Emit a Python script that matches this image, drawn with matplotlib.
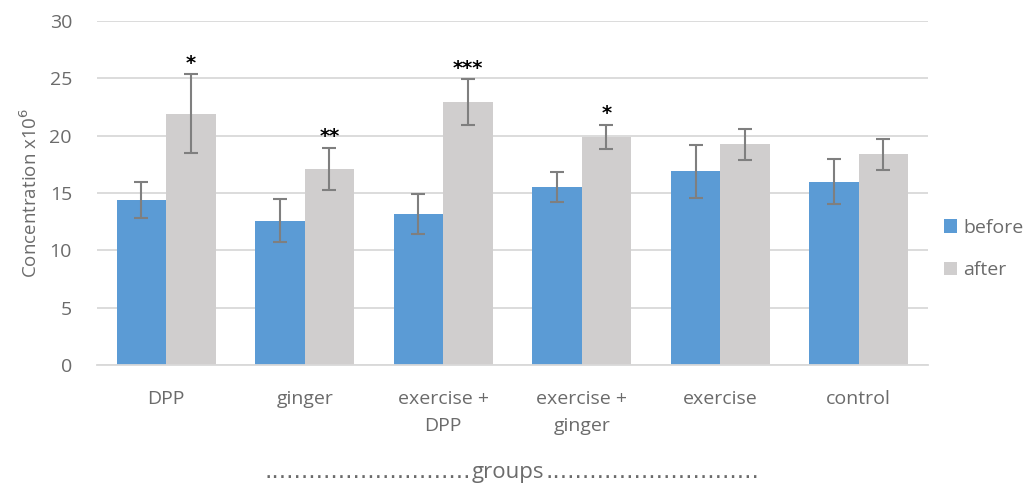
import matplotlib
matplotlib.use("Agg")
import matplotlib.pyplot as plt
import numpy as np

plt.rcParams['font.family'] = ['Open Sans', 'DejaVu Sans']

groups = ["DPP", "ginger", "exercise +\nDPP", "exercise +\nginger", "exercise", "control"]
before = [14.4, 12.6, 13.2, 15.5, 16.9, 16.0]
before_err = [1.6, 1.85, 1.75, 1.3, 2.3, 2.0]
after = [21.9, 17.1, 22.9, 19.9, 19.25, 18.4]
after_err = [3.45, 1.85, 2.0, 1.05, 1.35, 1.35]
significance = ["*", "**", "***", "*", "", ""]

blue = "#5b9bd5"
grey = "#d0cece"
text_grey = "#6b6b6b"

fig = plt.figure(figsize=(10.27, 4.83), dpi=100)
ax = fig.add_axes([0.0944, 0.2443, 0.8092, 0.7122])

x = np.arange(len(groups))
w = 0.357
err_kw = dict(ecolor="#7f7f7f", elinewidth=1.5, capsize=5, capthick=1.5)
ax.bar(x - w / 2, before, w, color=blue, label="before", zorder=2,
       yerr=before_err, error_kw=err_kw)
ax.bar(x + w / 2, after, w, color=grey, label="after", zorder=2,
       yerr=after_err, error_kw=err_kw)

for xi, top, err, s in zip(x, after, after_err, significance):
    if s:
        ax.annotate(s, (xi + w / 2, top + err), xytext=(0, 1),
                    textcoords="offset points", ha="center", va="bottom",
                    fontsize=14, fontweight="bold", color="black",
                    family="DejaVu Sans")

ax.set_xlim(-0.5, len(groups) - 0.5)
ax.set_ylim(0, 30)
ax.set_yticks(np.arange(0, 31, 5))
ax.yaxis.grid(True, color="#d9d9d9", linewidth=1.3, zorder=0)
ax.set_axisbelow(True)
for side in ["top", "right", "left"]:
    ax.spines[side].set_visible(False)
ax.spines["bottom"].set_color("#d9d9d9")
ax.spines["bottom"].set_linewidth(1.3)
ax.tick_params(axis="both", length=0, labelsize=14, labelcolor=text_grey)
ax.tick_params(axis="y", pad=18)
ax.tick_params(axis="x", pad=18)
ax.set_xticks(x)
ax.set_xticklabels(groups, linespacing=1.65)

ax.set_ylabel("Concentration x10$^6$", fontsize=13.5, color=text_grey, labelpad=6)

# axis title: dotted leaders either side of the word
title_y = 0.0104
fig.text(0.4946, title_y, "groups", ha="center", va="baseline",
         fontsize=16, color=text_grey)
fig.text(0.4586, title_y, "." * 28, ha="right", va="baseline",
         fontsize=16.6, color=text_grey, family="DejaVu Sans")
fig.text(0.5310, title_y, "." * 29, ha="left", va="baseline",
         fontsize=16.6, color=text_grey, family="DejaVu Sans")

leg = ax.legend(loc="center left", bbox_to_anchor=(1.0, 0.337), frameon=False,
                fontsize=14, labelcolor=text_grey, handlelength=0.7,
                handleheight=0.7, handletextpad=0.3, labelspacing=1.25,
                borderaxespad=0.4)

fig.savefig("out.png", dpi=100)
